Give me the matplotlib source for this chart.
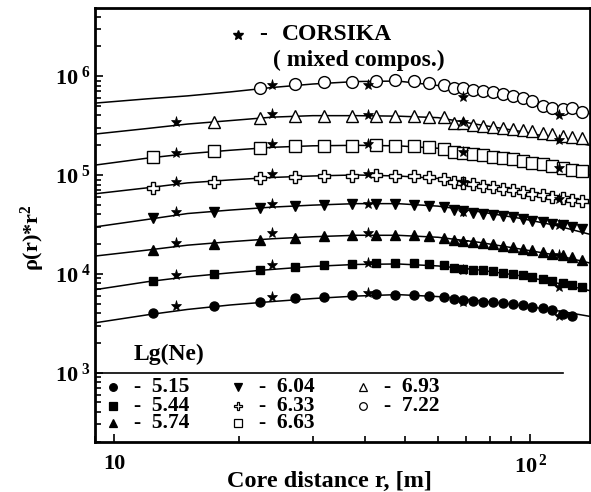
import numpy as np
import matplotlib
matplotlib.use("Agg")
import matplotlib.pyplot as plt
from matplotlib.ticker import LogLocator, NullFormatter

plt.rcParams['font.family'] = ['Liberation Serif', 'DejaVu Serif']
plt.rcParams['font.weight'] = 'bold'
plt.rcParams['mathtext.fontset'] = 'custom'
plt.rcParams['mathtext.rm'] = 'Liberation Serif:bold'
plt.rcParams['mathtext.it'] = 'Liberation Serif:italic:bold'
plt.rcParams['mathtext.bf'] = 'Liberation Serif:bold'

# lg(Ne) groups
labels = ['5.15', '5.44', '5.74', '6.04', '6.33', '6.63', '6.93', '7.22']

# fitted curves, lg(rho*r^2) read at these r
r_curve = [9, 12, 15, 19, 24, 30, 38, 48, 60, 75, 95, 115, 139]
lg_curve = {
    '5.15': [3.505, 3.585, 3.64, 3.685, 3.72, 3.75, 3.775, 3.79, 3.77, 3.73, 3.68, 3.63, 3.57],
    '5.44': [3.84, 3.92, 3.97, 4.01, 4.045, 4.075, 4.095, 4.10, 4.08, 4.04, 3.98, 3.91, 3.83],
    '5.74': [4.18, 4.24, 4.29, 4.325, 4.355, 4.375, 4.39, 4.39, 4.37, 4.32, 4.25, 4.19, 4.11],
    '6.04': [4.475, 4.55, 4.61, 4.645, 4.675, 4.695, 4.71, 4.71, 4.685, 4.63, 4.56, 4.49, 4.40],
    '6.33': [4.81, 4.87, 4.92, 4.95, 4.975, 4.99, 5.0, 4.99, 4.965, 4.90, 4.83, 4.77, 4.71],
    '6.63': [5.10, 5.17, 5.215, 5.25, 5.28, 5.295, 5.30, 5.295, 5.27, 5.21, 5.14, 5.07, 5.00],
    '6.93': [5.414, 5.47, 5.515, 5.55, 5.585, 5.60, 5.60, 5.595, 5.58, 5.51, 5.44, 5.37, 5.30],
    '7.22': [5.727, 5.77, 5.80, 5.84, 5.885, 5.92, 5.945, 5.95, 5.905, 5.83, 5.76, 5.69, 5.62],
}

# experimental points
r_pts = [12.4, 17.4, 22.4, 27.2, 32, 37.2, 42.6, 47.2, 52.5, 57, 62, 65.5, 69, 73, 77,
         81.5, 86, 91, 96, 101, 107, 113, 119.5, 126, 133]
nan = np.nan
lg_pts = {
    '5.15': [3.60, 3.67, 3.72, 3.755, 3.77, 3.785, 3.80, 3.79, 3.785, 3.78, 3.77, 3.75, 3.74,
             3.73, 3.72, 3.715, 3.705, 3.69, 3.68, 3.665, 3.65, 3.63, 3.59, 3.57, nan],
    '5.44': [3.93, 4.00, 4.04, 4.07, 4.09, 4.10, 4.105, 4.11, 4.105, 4.10, 4.085, 4.06, 4.05,
             4.04, 4.035, 4.025, 4.01, 4.0, 3.985, 3.97, 3.95, 3.93, 3.91, 3.89, 3.865],
    '5.74': [4.24, 4.30, 4.345, 4.365, 4.385, 4.39, 4.395, 4.395, 4.39, 4.38, 4.365, 4.34, 4.33,
             4.32, 4.31, 4.30, 4.285, 4.27, 4.255, 4.24, 4.225, 4.205, 4.19, 4.17, 4.145],
    '6.04': [4.56, 4.63, 4.665, 4.685, 4.70, 4.705, 4.71, 4.71, 4.70, 4.69, 4.675, 4.645, 4.635,
             4.62, 4.61, 4.60, 4.585, 4.57, 4.55, 4.535, 4.52, 4.505, 4.49, 4.47, 4.45],
    '6.33': [4.87, 4.93, 4.965, 4.98, 4.99, 4.99, 4.995, 4.99, 4.985, 4.975, 4.955, 4.93, 4.92,
             4.905, 4.89, 4.875, 4.86, 4.845, 4.83, 4.81, 4.795, 4.78, 4.765, 4.75, 4.735],
    '6.63': [5.18, 5.24, 5.27, 5.29, 5.295, 5.295, 5.30, 5.295, 5.29, 5.28, 5.265, 5.235, 5.225,
             5.21, 5.20, 5.185, 5.17, 5.16, 5.14, 5.125, 5.11, 5.09, 5.07, 5.055, 5.04],
    '6.93': [nan, 5.54, 5.575, 5.595, 5.595, 5.595, 5.60, 5.60, 5.595, 5.59, 5.585, 5.53, 5.525,
             5.51, 5.50, 5.49, 5.475, 5.465, 5.45, 5.44, 5.42, 5.41, 5.39, 5.38, 5.37],
    '7.22': [nan, nan, 5.88, 5.92, 5.94, 5.945, 5.955, 5.96, 5.95, 5.935, 5.91, 5.88, 5.875,
             5.86, 5.85, 5.835, 5.82, 5.80, 5.78, 5.75, 5.70, 5.68, 5.67, 5.675, 5.635],
}

# CORSIKA (mixed composition)
r_cors = [14.1, 23.9, 40.7, 68.9, 117]
lg_cors = {
    '5.15': [3.67, 3.77, 3.81, 3.72, 3.57],
    '5.44': [3.99, 4.09, 4.11, 4.04, 3.87],
    '5.74': [4.31, 4.41, 4.41, 4.32, 4.19],
    '6.04': [4.63, 4.71, 4.71, 4.63, 4.49],
    '6.33': [4.93, 5.01, 5.01, 4.93, 4.76],
    '6.63': [5.22, 5.31, 5.31, 5.23, 5.07],
    '6.93': [5.535, 5.615, 5.605, 5.535, 5.35],
    '7.22': [nan, 5.91, 5.91, 5.79, 5.61],
}

# marker style per group: (marker, filled, size)
styles = {
    '5.15': ('o', True, 6.5),
    '5.44': ('s', True, 6.3),
    '5.74': ('^', True, 7),
    '6.04': ('v', True, 7),
    '6.33': ('P', False, 8),
    '6.63': ('s', False, 8),
    '6.93': ('^', False, 8.5),
    '7.22': ('o', False, 8.5),
}

fig = plt.figure(figsize=(5.91, 4.92), dpi=100)
ax = fig.add_axes([0.161, 0.102, 0.837, 0.882])

for k in labels:
    ax.plot(r_curve, 10 ** np.array(lg_curve[k]), color='black', lw=1.1, zorder=2)
    m, filled, ms = styles[k]
    ax.plot(r_pts, 10 ** np.array(lg_pts[k]), ls='none', marker=m, ms=ms,
            mfc='black' if filled else 'white', mec='black', mew=1.0, zorder=3)
    ax.plot(r_cors, 10 ** np.array(lg_cors[k]), ls='none', marker='*', ms=8,
            mfc='black', mec='black', mew=0.5, zorder=4)

ax.set_xscale('log')
ax.set_yscale('log')
ax.set_xlim(9, 139)
ax.set_ylim(200, 4.9e6)

ax.set_xticks([10, 100], ['10', r'$10^{\,2}$'])
ax.set_yticks([1e3, 1e4, 1e5, 1e6],
              [r'$10^{\ 3}$', r'$10^{\ 4}$', r'$10^{\ 5}$', r'$10^{\ 6}$'])
ax.xaxis.set_minor_locator(LogLocator(base=10, subs=np.arange(2, 10)))
ax.yaxis.set_minor_locator(LogLocator(base=10, subs=np.arange(2, 10)))
ax.xaxis.set_minor_formatter(NullFormatter())
ax.yaxis.set_minor_formatter(NullFormatter())
ax.tick_params(which='both', direction='in', top=False, right=False, labelsize=16, width=1.2)
ax.tick_params(which='major', length=6)
ax.tick_params(which='minor', length=4)
ax.tick_params(axis='x', pad=9)
ax.tick_params(axis='y', pad=3)
for s in ax.spines.values():
    s.set_linewidth(2)

ax.set_xlabel('Core distance r, [m]', fontsize=17.5, fontweight='bold')
ax.xaxis.set_label_coords(0.473, -0.068)
ax.set_ylabel(r'ρ(r)*r$^{2}$', fontsize=16, fontweight='bold')
ax.yaxis.set_label_coords(-0.097, 0.47)

# separator line of the legend area
ax.axhline(1e3, xmin=0, xmax=0.945, color='black', lw=1.2)

# CORSIKA note
ax.plot([0.289], [0.938], transform=ax.transAxes, marker='*', ms=7, color='black')
ax.text(0.34, 0.938, '-', transform=ax.transAxes, fontsize=17,
        fontweight='bold', va='center', ha='center')
ax.text(0.378, 0.938, 'CORSIKA', transform=ax.transAxes, fontsize=17,
        fontweight='bold', va='center', ha='left')
ax.text(0.36, 0.878, '( mixed compos.)', transform=ax.transAxes, fontsize=17,
        fontweight='bold', va='center', ha='left')

# legend
ax.text(0.077, 0.202, 'Lg(Ne)', transform=ax.transAxes, fontsize=17,
        fontweight='bold', va='center', ha='left')
col_x = [0.036, 0.289, 0.541]
row_y = [0.127, 0.083, 0.044]
for i, k in enumerate(labels):
    c, r = divmod(i, 3)
    m, filled, ms = styles[k]
    ax.plot([col_x[c]], [row_y[r]], transform=ax.transAxes, marker=m, ms=5.5,
            mfc='black' if filled else 'white', mec='black', mew=0.9, ls='none')
    ax.text(col_x[c] + 0.042, row_y[r], '-  ' + k, transform=ax.transAxes, fontsize=15.5,
            fontweight='bold', va='center', ha='left')

fig.savefig('out.png', dpi=100)
